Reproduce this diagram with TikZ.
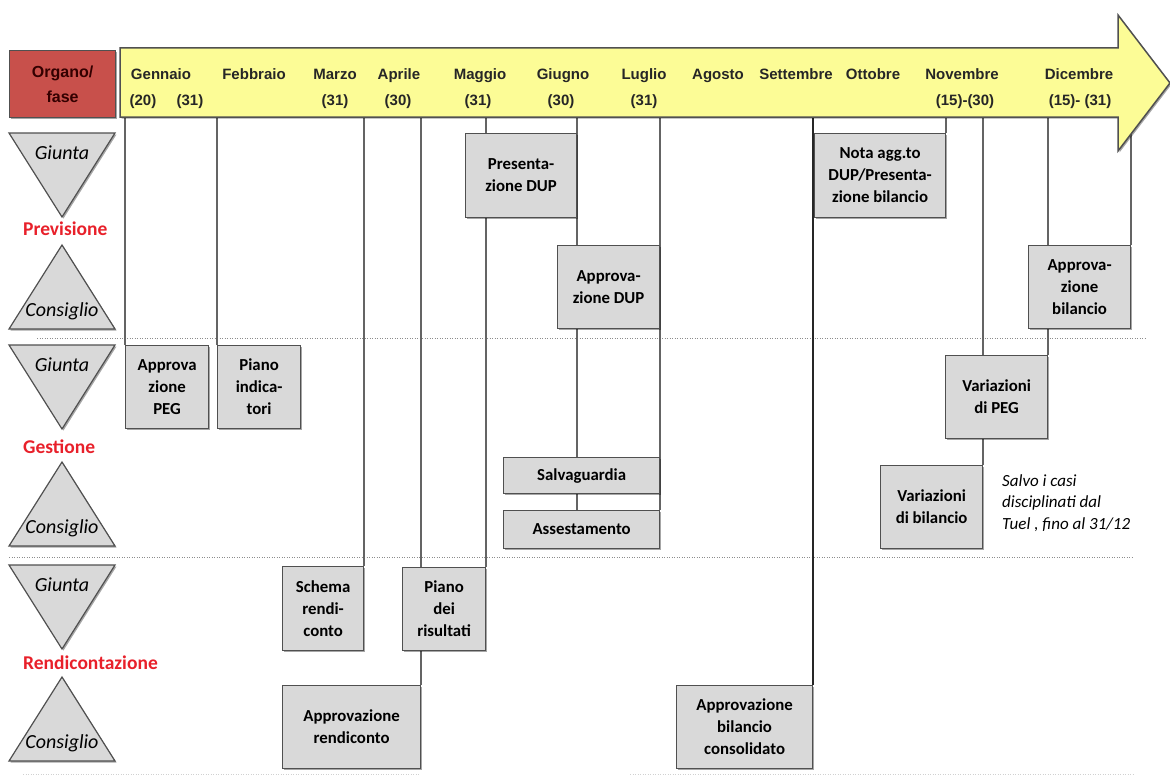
\documentclass[tikz,border=0pt]{standalone}
\usepackage{fontspec}
\setmainfont{Carlito}
\newfontfamily\hdrfont{Liberation Sans}
\usetikzlibrary{shadows}
\pgfdeclarelayer{bg}
\pgfsetlayers{bg,main}
\definecolor{hdryellow}{RGB}{252,252,150}
\definecolor{hdrred}{RGB}{200,80,75}
\definecolor{boxgray}{RGB}{217,217,217}
\definecolor{edgegray}{RGB}{80,80,80}
\definecolor{tickgray}{RGB}{100,100,100}
\definecolor{phasered}{RGB}{232,32,42}
\tikzset{
  softshadow/.style={drop shadow={shadow xshift=1.5pt, shadow yshift=-1.5pt, fill=black, opacity=0.35}},
  evt/.style={draw=edgegray, fill=boxgray, line width=1.2pt, align=center, inner sep=0pt,
    anchor=north west, font=\bfseries\fontsize{16.8}{22}\selectfont, softshadow},
  organ/.style={draw=edgegray, fill=boxgray, line width=1.2pt, softshadow},
  organlbl/.style={font=\itshape\fontsize{20}{24}\selectfont, anchor=base, inner sep=0pt},
  phase/.style={font=\bfseries\fontsize{19.5}{24}\selectfont, text=phasered, anchor=base west, inner sep=0pt},
  month/.style={font=\hdrfont\bfseries\fontsize{15}{18}\selectfont, anchor=base, inner sep=0pt, text=black!85},
  tick/.style={draw=tickgray, line width=1.7pt},
  sep/.style={draw=black!45, line width=1pt, dash pattern=on 1pt off 1.5pt},
}
\begin{document}
\begin{tikzpicture}[x=1pt,y=-1pt]
  \useasboundingbox (0,0) rectangle (1170,776);
  \draw[line width=1.5pt, draw=edgegray, fill=hdryellow, softshadow]
    (120,48) -- (1118,48) -- (1118,15) -- (1170,83) -- (1118,151) -- (1118,117) -- (120,117) -- cycle;
  \node[draw=edgegray, fill=hdrred, line width=1.2pt, minimum width=106pt, minimum height=67pt,
    anchor=north west, align=center, inner sep=0pt, softshadow,
    font=\hdrfont\bfseries\fontsize{16}{25}\selectfont, text=black!80!red] (org) at (9,50) {Organo/\\fase};
  \foreach \x/\m/\n in {161/Gennaio/gen, 254/Febbraio/feb, 335/Marzo/mar, 399/Aprile/apr,
    480/Maggio/mag, 563/Giugno/giu, 644/Luglio/lug, 718/Agosto/ago, 796/Settembre/set,
    873/Ottobre/ott, 962/Novembre/nov, 1079/Dicembre/dic}
    \node[month] (\n) at (\x,80) {\m};
  \foreach \x/\d/\n in {143/{(20)}/gen20, 190/{(31)}/gen31, 335/{(31)}/mar31, 398/{(30)}/apr30,
    478/{(31)}/mag31, 561/{(30)}/giu30, 644/{(31)}/lug31, 965/{(15)-(30)}/nov1530, 1080/{(15)- (31)}/dic1531}
    \node[month] (\n) at (\x,105) {\d};
  \foreach \gy/\cy/\ly/\lab/\nm in {133/245/235/Previsione/prev, 345/462/453/Gestione/gest,
    565/677/669/Rendicontazione/rend}{
    \draw[organ] (9,\gy) -- (115,\gy) -- (62,\gy+84) -- cycle;
    \draw[organ] (62,\cy) -- (115,\cy+84) -- (9,\cy+84) -- cycle;
    \node[organlbl] (giunta-\nm) at (62,\gy+26) {Giunta};
    \node[organlbl] (consiglio-\nm) at (62,\cy+71) {Consiglio};
    \node[phase] (\nm) at (23,\ly) {\lab};
  }
  \node[evt, minimum width=111pt, minimum height=84pt] (pres) at (465,133) {Presenta-\\zione DUP};
  \node[evt, minimum width=102pt, minimum height=83pt] (apdup) at (557,245) {Approva-\\zione DUP};
  \node[evt, minimum width=131pt, minimum height=84pt] (nota) at (814,133) {Nota agg.to\\DUP/Presenta-\\zione bilancio};
  \node[evt, minimum width=102pt, minimum height=83pt] (apbil) at (1028,245) {Approva-\\zione\\bilancio};
  \node[evt, minimum width=83pt, minimum height=83pt] (peg) at (125,345) {Approva\\zione\\PEG};
  \node[evt, minimum width=83pt, minimum height=83pt] (pind) at (217,345) {Piano\\indica-\\tori};
  \node[evt, minimum width=102pt, minimum height=83pt] (vpeg) at (945,355) {Variazioni\\di PEG};
  \node[evt, minimum width=102pt, minimum height=83pt] (vbil) at (880,465) {Variazioni\\di bilancio};
  \node[evt, minimum width=156pt, minimum height=36pt] (salv) at (503,457) {Salvaguardia};
  \node[evt, minimum width=156pt, minimum height=38pt] (asst) at (503,510) {Assestamento};
  \node[evt, minimum width=81pt, minimum height=84pt] (schema) at (282,566) {Schema\\rendi-\\conto};
  \node[evt, minimum width=83pt, minimum height=83pt] (pris) at (402,567) {Piano\\dei\\risultati};
  \node[evt, minimum width=138pt, minimum height=83pt] (aprend) at (282,685) {Approvazione\\rendiconto};
  \node[evt, minimum width=136pt, minimum height=83pt] (consol) at (676,685) {Approvazione\\bilancio\\consolidato};
  \node[anchor=north west, align=left, inner sep=0pt, font=\itshape\fontsize{17}{21.5}\selectfont]
    (salvo) at (1002,474) {Salvo i casi\\disciplinati dal\\Tuel , fino al 31/12};
  \coordinate (axis) at (0,117);
  \begin{pgfonlayer}{bg}
    \draw[sep] (37,338) -- (1147,338);
    \draw[sep] (9,557) -- (1133,557);
    \draw[sep, draw=black!18] (23,774) -- (420,774) (630,774) -- (1133,774);
    \begin{scope}[tick]
      \draw (peg.north west |- axis) to (peg.north west);
      \draw (pind.north west |- axis) to (pind.north west);
      \draw (schema.north east |- axis) to (schema.north east);
      \draw (aprend.north east |- axis) to (aprend.north east);
      \draw (pris.north east |- axis) to (pris.north east);
      \draw (pres.north east |- axis) to (pres.north east |- asst.north);
      \draw (asst.north east |- axis) to (asst.north east);
      \draw[draw=black!85] (consol.north east |- axis) to (consol.north east);
      \draw (nota.north east |- axis) to (nota.north east);
      \draw (vbil.north east |- axis) to (vbil.north east);
      \draw (vpeg.north east |- axis) to (vpeg.north east);
      \draw (apbil.north east |- axis) to (apbil.north east);
    \end{scope}
  \end{pgfonlayer}
\end{tikzpicture}
\end{document}
